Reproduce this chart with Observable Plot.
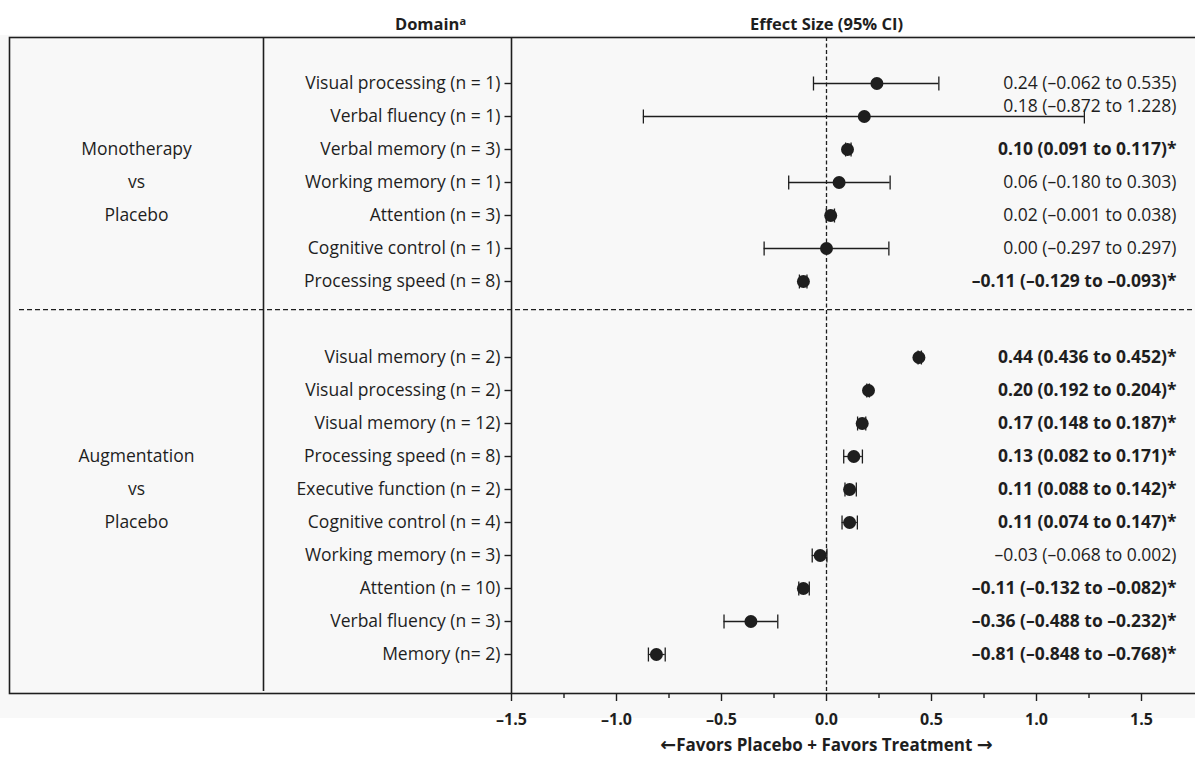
<!DOCTYPE html>
<html>
<head>
<meta charset="utf-8">
<script src="https://cdn.jsdelivr.net/npm/d3@7"></script>
<script src="https://cdn.jsdelivr.net/npm/@observablehq/plot@0.6"></script>
<style>
  html, body { margin: 0; padding: 0; background: #fff; }
  #chart svg { display: block; }
</style>
</head>
<body>
<div id="chart"></div>
<script>
// ---------------- Data ----------------
const monoDomains = [
  "Visual processing (n = 1)",
  "Verbal fluency (n = 1)",
  "Verbal memory (n = 3)",
  "Working memory (n = 1)",
  "Attention (n = 3)",
  "Cognitive control (n = 1)",
  "Processing speed (n = 8)"
];
const monoEst = [0.24, 0.18, 0.10, 0.06, 0.02, 0.00, -0.11];
const monoLo  = [-0.062, -0.872, 0.091, -0.180, -0.001, -0.297, -0.129];
const monoHi  = [0.535, 1.228, 0.117, 0.303, 0.038, 0.297, -0.093];
const monoLabels = [
  "0.24 (–0.062 to 0.535)",
  "0.18 (–0.872 to 1.228)",
  "0.10 (0.091 to 0.117)*",
  "0.06 (–0.180 to 0.303)",
  "0.02 (–0.001 to 0.038)",
  "0.00 (–0.297 to 0.297)",
  "–0.11 (–0.129 to –0.093)*"
];

const augDomains = [
  "Visual memory (n = 2)",
  "Visual processing (n = 2)",
  "Visual memory (n = 12)",
  "Processing speed (n = 8)",
  "Executive function (n = 2)",
  "Cognitive control (n = 4)",
  "Working memory (n = 3)",
  "Attention (n = 10)",
  "Verbal fluency (n = 3)",
  "Memory (n= 2)"
];
const augEst = [0.44, 0.20, 0.17, 0.13, 0.11, 0.11, -0.03, -0.11, -0.36, -0.81];
const augLo  = [0.436, 0.192, 0.148, 0.082, 0.088, 0.074, -0.068, -0.132, -0.488, -0.848];
const augHi  = [0.452, 0.204, 0.187, 0.171, 0.142, 0.147, 0.002, -0.082, -0.232, -0.768];
const augLabels = [
  "0.44 (0.436 to 0.452)*",
  "0.20 (0.192 to 0.204)*",
  "0.17 (0.148 to 0.187)*",
  "0.13 (0.082 to 0.171)*",
  "0.11 (0.088 to 0.142)*",
  "0.11 (0.074 to 0.147)*",
  "–0.03 (–0.068 to 0.002)",
  "–0.11 (–0.132 to –0.082)*",
  "–0.36 (–0.488 to –0.232)*",
  "–0.81 (–0.848 to –0.768)*"
];

const groupNames = [["Monotherapy", "vs", "Placebo"], ["Augmentation", "vs", "Placebo"]];
const xTicks = [-1.5, -1.0, -0.5, 0.0, 0.5, 1.0, 1.5];
const xTickLabels = ["–1.5", "–1.0", "–0.5", "0.0", "0.5", "1.0", "1.5"];
const xMinorTicks = [-1.25, -0.75, -0.25, 0.25, 0.75, 1.25];
const headerDomain = "Domain";
const headerDomainSup = "a";
const headerEffect = "Effect Size (95% CI)";
const footerLeftArrow = "←";
const footerText = "Favors Placebo + Favors Treatment ";
const footerRightArrow = "→";

// ---------------- Layout ----------------
const W = 1195, H = 764;
const FONT = "'Open Sans', 'Noto Sans', sans-serif";
const INK = "#1e1e1e";
const ROWFONT = 17.5;
const xDomain = [-1.5, 1.5];
const xRange = [511, 1141];
const xLin = d3.scaleLinear(xDomain, xRange);
const groupGap = 76 / 33;           // extra spacing between the two groups (in rows)

const rows = [];
monoDomains.forEach((d, i) => rows.push({group: 0, idx: i, domain: d, est: monoEst[i], lo: monoLo[i], hi: monoHi[i], label: monoLabels[i]}));
augDomains.forEach((d, i) => rows.push({group: 1, idx: i, domain: d, est: augEst[i], lo: augLo[i], hi: augHi[i], label: augLabels[i]}));
rows.forEach(r => {
  r.pos = r.group === 0 ? r.idx : (monoDomains.length - 1) + groupGap + r.idx;
  r.sig = r.label.endsWith("*");
});
const lastPos = d3.max(rows, r => r.pos);
const monoLast = monoDomains.length - 1;
const sepPos = monoLast + 0.85;

// a value label is lifted when its CI runs into the label column
const labelColumnStart = xLin.invert(945);
rows.forEach(r => { r.lift = r.hi > labelColumnStart; });

// group label lines (3 lines centred on a middle row of each group)
const groupCenterIdx = [3, 4];
const groupText = [];
groupNames.forEach((lines, g) => {
  const gr = rows.filter(r => r.group === g);
  const center = gr[groupCenterIdx[g]].pos;
  lines.forEach((t, k) => groupText.push({text: t, pos: center + (k - 1)}));
});

const dividerX = xLin.invert(263);

const vBar = { draw(ctx, size) { const h = Math.sqrt(size / Math.PI); ctx.moveTo(0, -h); ctx.lineTo(0, h); } };
const hBar = { draw(ctx, size) { const h = Math.sqrt(size / Math.PI); ctx.moveTo(-h, 0); ctx.lineTo(h, 0); } };

const chart = Plot.plot({
  width: W,
  height: H,
  marginLeft: 9,
  marginRight: -1,
  marginTop: 37,
  marginBottom: 71,
  style: {
    fontFamily: FONT,
    fontSize: "17px",
    color: INK,
    background: "linear-gradient(to bottom, #ffffff 0px, #ffffff 35px, #f8f8f8 35px, #f8f8f8 718px, #ffffff 718px)"
  },
  x: { domain: xDomain, range: xRange },
  y: { domain: [0, lastPos], range: [83, 654], axis: null },
  marks: [
    Plot.frame({ stroke: INK, strokeWidth: 1.6 }),
    Plot.ruleX([dividerX], { stroke: INK, strokeWidth: 1.6, insetBottom: 2 }),
    Plot.ruleX([xDomain[0]], { stroke: INK, strokeWidth: 1.6 }),
    Plot.ruleX([0], { stroke: INK, strokeWidth: 1.3, strokeDasharray: "4,2.5" }),
    Plot.ruleY([sepPos], { stroke: INK, strokeWidth: 1.3, strokeDasharray: "5,3", insetLeft: 10 }),
    // x axis
    Plot.axisX({ ticks: xTicks, tickSize: 8, tickPadding: 12, tickFormat: (d) => xTickLabels[xTicks.indexOf(d)],
                 fontWeight: "bold", fontSize: 16, stroke: INK, fill: INK, strokeWidth: 1.4 }),
    Plot.axisX({ ticks: xMinorTicks, tickSize: 5, tickFormat: () => "", stroke: INK, strokeWidth: 1.4 }),
    // y labels and ticks
    Plot.dot(rows, { x: xDomain[0], y: "pos", symbol: hBar, r: 3.5, dx: -3.5, stroke: INK, fill: "none", strokeWidth: 1.4 }),
    Plot.text(rows, { x: xDomain[0], y: "pos", text: "domain", dx: -11, textAnchor: "end", fill: INK, fontSize: ROWFONT }),
    // group labels
    Plot.text(groupText, { frameAnchor: "left", dx: 127, y: "pos", text: "text", textAnchor: "middle", fill: INK, fontSize: ROWFONT }),
    // error bars
    Plot.ruleY(rows, { y: "pos", x1: "lo", x2: "hi", stroke: INK, strokeWidth: 1.3 }),
    Plot.dot(rows, { x: "lo", y: "pos", symbol: vBar, r: 7, stroke: INK, fill: "none", strokeWidth: 1.3 }),
    Plot.dot(rows, { x: "hi", y: "pos", symbol: vBar, r: 7, stroke: INK, fill: "none", strokeWidth: 1.3 }),
    Plot.dot(rows, { x: "est", y: "pos", r: 6.5, fill: INK, stroke: "none" }),
    // value labels
    Plot.text(rows.filter(r => !r.sig && !r.lift), { y: "pos", text: "label", frameAnchor: "right", dx: -20, textAnchor: "end", fill: INK, fontSize: ROWFONT }),
    Plot.text(rows.filter(r => !r.sig && r.lift), { y: "pos", text: "label", frameAnchor: "right", dx: -20, dy: -10, textAnchor: "end", fill: INK, fontSize: ROWFONT }),
    Plot.text(rows.filter(r => r.sig), { y: "pos", text: "label", frameAnchor: "right", dx: -20, textAnchor: "end", fill: INK, fontSize: ROWFONT, fontWeight: "bold" }),
    // headers & footer
    Plot.text([headerEffect], { x: 0, frameAnchor: "top", dy: -19, text: d => d, fill: INK, fontSize: 16.5, fontWeight: "bold" }),
    Plot.text([headerDomain], { frameAnchor: "top-left", dx: 421, dy: -19, text: d => d, fill: INK, fontSize: 16.5, fontWeight: "bold", textAnchor: "middle" }),
    Plot.text([footerText], { x: 0, frameAnchor: "bottom", dy: 57, text: d => d, fill: INK, fontSize: 17, fontWeight: "bold" })
  ]
});

const svg = d3.select(chart);
// superscript on the Domain header
svg.selectAll("text").filter(function () { return this.textContent === headerDomain; })
  .append("tspan").attr("dy", "-0.45em").attr("font-size", "11px").text(headerDomainSup);
// heavy arrows on the footer
const foot = svg.selectAll("text").filter(function () { return this.textContent === footerText; });
foot.each(function () {
  const t = d3.select(this);
  const txt = this.textContent;
  t.text(null);
  t.append("tspan").attr("font-family", "'DejaVu Sans', sans-serif").attr("font-size", "19px").attr("font-weight", "bold").text(footerLeftArrow);
  t.append("tspan").text(txt);
  t.append("tspan").attr("font-family", "'DejaVu Sans', sans-serif").attr("font-size", "19px").attr("font-weight", "bold").text(footerRightArrow);
});

document.getElementById("chart").appendChild(chart);
</script>
</body>
</html>
